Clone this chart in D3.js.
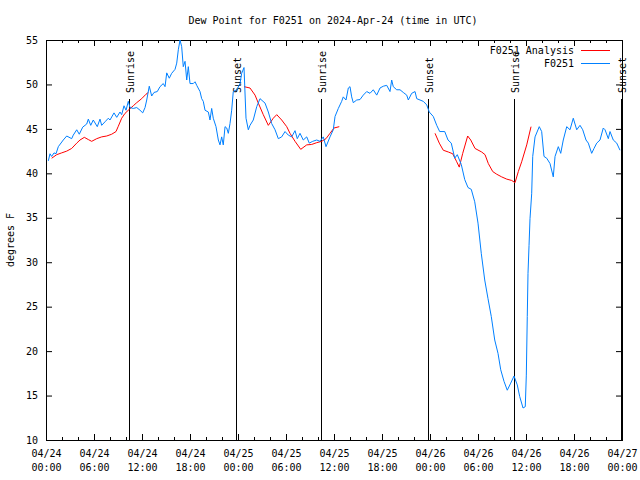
<!DOCTYPE html>
<html><head><meta charset="utf-8">
<script src="https://cdn.jsdelivr.net/npm/d3@7"></script>
<style>body{margin:0;background:#fff}</style>
</head><body>
<script>
// ---- data ----
const startISO = "2024-04-24T00:00:00Z";
const titleText = "Dew Point for F0251 on 2024-Apr-24 (time in UTC)";
const yLabelText = "degrees F";
const seriesNames = ["F0251 Analysis", "F0251"];
const yTicks = [10, 15, 20, 25, 30, 35, 40, 45, 50, 55];

// observed series (hours since start, deg F)
const obsHours = [0.29,0.5,0.71,1.0,1.25,1.54,2.16,2.59,3.21,3.41,3.84,4.16,4.59,5.09,5.29,5.59,5.91,6.41,6.75,6.96,7.38,7.79,8.0,8.5,8.84,9.25,9.46,9.75,10.0,10.29,10.5,10.91,11.34,11.75,12.09,12.38,12.59,12.91,13.21,13.5,13.91,14.25,14.66,14.88,15.09,15.41,15.71,16.13,16.34,16.54,16.75,16.96,17.16,17.38,17.59,17.79,18.0,18.41,18.63,18.84,19.25,19.46,19.66,19.88,20.29,20.5,20.71,20.91,21.25,21.54,21.75,21.96,22.16,22.38,22.59,22.79,23.0,23.21,23.41,23.84,24.25,24.46,24.75,25.0,25.29,25.5,25.91,26.34,26.75,27.38,27.79,28.21,28.63,29.04,29.46,29.88,30.29,30.71,31.13,31.41,31.75,32.16,32.59,32.91,33.34,33.84,34.25,34.66,35.0,35.5,35.91,36.13,36.54,36.96,37.16,37.5,37.79,38.0,38.21,38.41,38.84,39.25,39.66,40.09,40.5,40.91,41.34,41.75,42.16,42.59,43.0,43.21,43.41,43.84,44.25,44.66,45.09,45.29,45.71,46.13,46.34,46.75,47.16,47.59,47.91,48.41,48.84,49.21,49.84,50.25,50.66,51.09,51.41,51.91,52.34,52.75,53.16,53.59,54.0,54.41,54.84,55.25,55.66,56.09,56.5,56.84,57.25,57.66,58.09,58.5,58.91,59.21,59.63,59.91,60.04,60.16,60.25,60.38,60.5,60.71,60.84,61.13,61.66,61.96,62.25,62.59,63.0,63.41,63.63,64.04,64.34,64.66,65.09,65.5,65.91,66.34,66.75,67.09,67.5,67.79,68.21,68.5,68.84,69.25,69.66,69.88,70.29,70.5,70.91,71.34,71.75];
const obsValues = [41.4,42.2,41.9,42.3,42.2,43.0,43.75,44.2,43.9,44.3,44.9,44.4,45.2,45.55,46.1,45.4,46.0,45.25,46.1,45.4,45.8,46.2,46.0,46.8,46.3,46.9,46.6,47.6,47.1,48.1,47.4,47.3,47.4,47.1,46.8,47.4,48.25,49.8,48.7,49.1,49.2,49.75,50.1,49.75,51.3,50.7,51.25,51.7,52.4,53.9,55.0,54.25,52.0,52.6,50.5,52.0,50.1,50.1,50.3,49.9,49.2,48.4,48.1,47.1,46.9,46.0,47.3,46.2,45.25,43.75,43.2,44.1,43.2,45.25,45.1,44.5,45.6,47.1,49.2,49.4,50.1,51.25,51.9,46.2,44.9,45.4,46.0,47.5,48.4,47.9,46.9,45.6,44.9,43.9,44.1,44.7,44.3,44.1,44.8,43.9,44.5,43.75,44.1,43.4,43.6,43.75,43.6,44.1,43.0,44.1,44.9,46.4,47.3,48.1,48.6,48.25,49.6,49.75,48.6,47.95,48.25,48.3,48.8,49.2,49.0,49.4,48.8,49.6,49.8,49.9,49.2,50.5,49.75,49.4,49.4,49.1,48.8,48.25,49.0,49.2,48.4,48.25,48.1,47.7,46.9,46.4,45.4,44.7,44.7,43.75,43.4,41.7,42.1,41.0,39.3,38.4,38.2,36.8,34.4,31.0,28.0,25.9,23.9,21.25,19.75,17.9,16.6,15.6,16.4,17.2,16.2,14.9,13.6,13.75,17.3,23.9,28.75,31.9,34.9,37.7,41.9,44.1,45.25,44.7,41.9,41.7,41.1,39.6,41.9,43.0,42.25,43.75,45.25,44.9,46.2,44.9,45.4,44.9,43.75,43.4,42.25,42.8,43.4,43.75,45.1,44.9,43.9,44.7,43.75,43.4,42.6];

// analysis series (null = gap)
const anaHours = [0.71,1.34,1.96,2.59,3.21,3.84,4.25,4.79,5.29,5.71,6.34,6.96,7.59,8.21,8.75,9.04,9.46,9.88,10.41,10.91,11.34,11.96,12.5,12.79,
  18.0,
  24.75,25.5,26.13,26.54,27.16,27.79,28.41,28.84,29.46,30.09,30.5,31.13,31.84,32.59,33.21,33.84,34.46,35.0,35.5,36.0,36.66,
  42.0,
  48.63,49.16,49.66,50.29,50.84,51.34,51.66,52.09,52.71,53.09,53.63,54.46,54.88,55.29,55.84,56.34,56.96,57.59,58.21,58.63,59.04,59.46,60.09,60.63];
const anaValues = [41.7,42.1,42.3,42.5,42.8,43.4,43.75,44.05,43.8,43.6,43.9,44.1,44.2,44.4,44.7,45.3,46.2,46.75,47.2,47.6,47.95,48.4,48.9,49.1,
  null,
  49.75,49.6,48.8,47.9,46.6,45.4,46.2,46.6,46.0,45.25,44.5,43.6,42.7,43.2,43.25,43.45,43.6,43.9,44.5,45.1,45.25,
  null,
  44.5,43.4,42.6,42.4,42.2,41.3,40.7,42.25,44.2,43.75,42.8,42.4,42.1,41.1,40.2,39.9,39.6,39.35,39.2,38.95,40.2,41.3,43.2,45.25];

// sunrise / sunset markers
const sunHours = [10.41, 23.81, 34.41, 47.79, 58.46, 71.9];
const sunLabels = ["Sunrise", "Sunset", "Sunrise", "Sunset", "Sunrise", "Sunset"];

// ---- chart ----
const W = 640, H = 480;
const M = {left: 46, right: 622, top: 40, bottom: 440};
const FONT = "'DejaVu Sans Mono', 'Liberation Mono', monospace";
const start = new Date(startISO);
const toDate = h => new Date(start.getTime() + h * 3600000);

const x = d3.scaleUtc().domain([start, toDate(72)]).range([M.left, M.right]);
const y = d3.scaleLinear().domain([10, 55]).range([M.bottom, M.top]);

const svg = d3.select("body").append("svg")
  .attr("width", W).attr("height", H)
  .style("font-family", FONT);

const majorX = d3.utcHour.every(6).range(start, toDate(72.01));
const minorX = d3.utcHour.every(2).range(start, toDate(72.01)).filter(d => d.getUTCHours() % 6 !== 0);

function styleAxis(g) {
  g.select(".domain").remove();
  g.selectAll("line").attr("stroke", "#000");
  g.attr("font-family", FONT).attr("font-size", 10);
}

// bottom axis major with labels
const gB = svg.append("g").attr("transform", `translate(0,${M.bottom})`)
  .call(d3.axisBottom(x).tickValues(majorX).tickSize(-6).tickFormat(""));
styleAxis(gB);
const fmtD = d3.utcFormat("%m/%d"), fmtT = d3.utcFormat("%H:%M");
gB.selectAll(".tick text").each(function(d) {
  const t = d3.select(this).attr("y", null).attr("dy", null).attr("fill", "#000");
  t.append("tspan").attr("x", 0).attr("y", 17).text(fmtD(d));
  t.append("tspan").attr("x", 0).attr("y", 31).text(fmtT(d));
});
svg.append("g").attr("transform", `translate(0,${M.bottom})`)
  .call(d3.axisBottom(x).tickValues(minorX).tickSize(-3).tickFormat("")).call(styleAxis);
// top axis
svg.append("g").attr("transform", `translate(0,${M.top})`)
  .call(d3.axisTop(x).tickValues(majorX).tickSize(-6).tickFormat("")).call(styleAxis);
svg.append("g").attr("transform", `translate(0,${M.top})`)
  .call(d3.axisTop(x).tickValues(minorX).tickSize(-3).tickFormat("")).call(styleAxis);
// left axis
const gL = svg.append("g").attr("transform", `translate(${M.left},0)`)
  .call(d3.axisLeft(y).tickValues(yTicks).tickSize(-6).tickPadding(8).tickFormat(d3.format("d")));
styleAxis(gL);
gL.selectAll(".tick text").attr("fill", "#000").attr("x", -8);
// right axis
svg.append("g").attr("transform", `translate(${M.right},0)`)
  .call(d3.axisRight(y).tickValues(yTicks).tickSize(-6).tickFormat("")).call(styleAxis);

// frame
svg.append("rect")
  .attr("x", M.left + 0.5).attr("y", M.top + 0.5)
  .attr("width", M.right - M.left).attr("height", M.bottom - M.top)
  .attr("fill", "none").attr("stroke", "#000").attr("stroke-width", 1);

// title & y label
svg.append("text").attr("x", 333).attr("y", 24).attr("text-anchor", "middle")
  .attr("font-size", 10).text(titleText);
svg.append("text").attr("transform", "translate(14,240) rotate(-90)")
  .attr("text-anchor", "middle").attr("font-size", 10).text(yLabelText);

// sunrise / sunset lines
const sunG = svg.append("g");
sunHours.forEach((h, i) => {
  const sx = Math.round(x(toDate(h))) + 0.5;
  sunG.append("line").attr("x1", sx).attr("x2", sx).attr("y1", 99).attr("y2", M.bottom)
    .attr("stroke", "#000").attr("stroke-width", 1);
  sunG.append("text").attr("transform", `translate(${sx + 4},93) rotate(-90)`)
    .attr("text-anchor", "start").attr("font-size", 10).text(sunLabels[i]);
});

// series lines
const obs = obsHours.map((h, i) => ({t: toDate(h), v: obsValues[i]}));
const ana = anaHours.map((h, i) => ({t: toDate(h), v: anaValues[i]}));
const line = d3.line().defined(d => d.v != null).x(d => x(d.t)).y(d => y(d.v));

svg.append("path").datum(ana).attr("d", line)
  .attr("fill", "none").attr("stroke", "#ff0000").attr("stroke-width", 1);
svg.append("path").datum(obs).attr("d", line)
  .attr("fill", "none").attr("stroke", "#0080ff").attr("stroke-width", 1);

// legend
const colors = ["#ff0000", "#0080ff"];
seriesNames.forEach((name, i) => {
  const ly = 50 + i * 13;
  svg.append("text").attr("x", 574).attr("y", ly + 3.5).attr("text-anchor", "end")
    .attr("font-size", 10).text(name);
  svg.append("line").attr("x1", 581).attr("x2", 610).attr("y1", ly + 0.5).attr("y2", ly + 0.5)
    .attr("stroke", colors[i]).attr("stroke-width", 1);
});
</script>
</body></html>
